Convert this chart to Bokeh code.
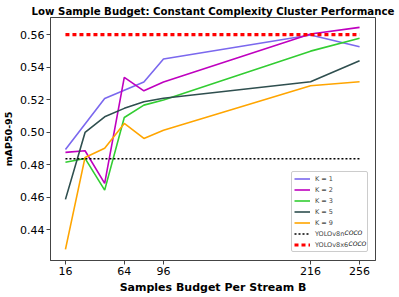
from bokeh.plotting import figure
from bokeh.models import Range1d, FixedTicker, Legend, LegendItem, Label, PrintfTickFormatter
from bokeh.embed import file_html
from bokeh.resources import INLINE

budgets = [16, 32, 48, 64, 80, 96, 216, 256]
k1 = [0.4893, 0.5050, 0.5206, 0.5257, 0.5308, 0.5450, 0.5597, 0.5525]
k2 = [0.4875, 0.4885, 0.4684, 0.5337, 0.5254, 0.5308, 0.5603, 0.5644]
k3 = [0.4815, 0.4838, 0.4643, 0.5090, 0.5166, 0.5198, 0.5498, 0.5577]
k5 = [0.4586, 0.4998, 0.5094, 0.5146, 0.5187, 0.5208, 0.5310, 0.5439]
k9 = [0.4278, 0.4844, 0.4900, 0.5053, 0.4961, 0.5012, 0.5285, 0.5310]
yolov8n = 0.4836
yolov8x6 = 0.5600
x_ticks = [16, 64, 96, 216, 256]
y_ticks = [0.44, 0.46, 0.48, 0.50, 0.52, 0.54, 0.56]

series = [
    ("K = 1", k1, "#7B68EE"),
    ("K = 2", k2, "#BF00BF"),
    ("K = 3", k3, "#32CD32"),
    ("K = 5", k5, "#2F4F4F"),
    ("K = 9", k9, "#FFA500"),
]

FONT = "DejaVu Sans"

p = figure(width=399, height=297, output_backend="svg", toolbar_location=None,
           x_range=Range1d(3.8, 269), y_range=Range1d(0.421, 0.5705),
           min_border_left=49, min_border_right=24, min_border_top=17,
           min_border_bottom=37,
           title="Low Sample Budget: Constant Complexity Cluster Performance")

p.title.text_font = FONT
p.title.text_font_size = "10.2px"
p.title.text_font_style = "bold"
p.title.text_color = "black"
p.title.align = "center"
p.title.standoff = 2

p.xgrid.visible = False
p.ygrid.visible = False
p.outline_line_color = "#444444"
p.outline_line_width = 1

for ax in (p.xaxis, p.yaxis):
    ax.axis_line_color = "#444444"
    ax.major_tick_line_color = "#444444"
    ax.major_tick_out = 4
    ax.major_tick_in = 0
    ax.minor_tick_line_color = None
    ax.major_label_text_font = FONT
    ax.major_label_text_font_size = "11px"
    ax.major_label_text_color = "black"
    ax.axis_label_text_font = FONT
    ax.axis_label_text_font_style = "bold"
    ax.axis_label_text_color = "black"

p.xaxis.ticker = FixedTicker(ticks=x_ticks)
p.yaxis.ticker = FixedTicker(ticks=y_ticks)
p.yaxis.formatter = PrintfTickFormatter(format="%.2f")
p.xaxis.axis_label = "Samples Budget Per Stream B"
p.xaxis.axis_label_text_font_size = "11px"
p.xaxis.axis_label_standoff = 3
p.xaxis.major_label_standoff = 2
p.yaxis.axis_label = "mAP50-95"
p.yaxis.axis_label_text_font_size = "9.5px"
p.yaxis.axis_label_standoff = 3
p.yaxis.major_label_standoff = 2

items = []
for label, vals, color in series:
    r = p.line(budgets, vals, line_color=color, line_width=1.6)
    items.append(LegendItem(label=label, renderers=[r]))

base_x = [budgets[0], budgets[-1]]
rn = p.line(base_x, [yolov8n, yolov8n], line_color="black", line_width=1.6,
            line_dash="2 2")
items.append(LegendItem(label="YOLOv8n", renderers=[rn]))
rx = p.line(base_x, [yolov8x6, yolov8x6], line_color="red", line_width=3.2,
            line_dash="4 3")
items.append(LegendItem(label="YOLOv8x6", renderers=[rx]))

# legend layout, screen px relative to the frame's bottom-left corner
LX, LY = 241, 8
PAD, GW, GH, SP, STAND, LW = 2, 16, 9, 2, 5, 50
legend = Legend(items=items, location=(LX, LY))
legend.label_text_font = FONT
legend.label_text_font_size = "6.5px"
legend.glyph_width = GW
legend.glyph_height = GH
legend.label_height = GH
legend.label_width = LW
legend.spacing = SP
legend.padding = PAD
legend.margin = 0
legend.label_standoff = STAND
legend.border_line_color = "#cccccc"
legend.border_line_alpha = 1
legend.border_radius = 2
legend.background_fill_alpha = 0
p.add_layout(legend, "center")

n_items = len(items)
leg_h = 2 * PAD + n_items * GH + (n_items - 1) * SP
text_left = LX + PAD + GW + STAND
for idx, base_w in ((5, 30.0), (6, 34.0)):
    row_mid_from_top = PAD + idx * (GH + SP) + GH / 2
    sy = LY + leg_h - row_mid_from_top + 2.5
    p.add_layout(Label(x=text_left + base_w, y=sy, x_units="screen", y_units="screen",
                       text="COCO", text_font=FONT, text_font_size="6px",
                       text_font_style="italic", text_baseline="middle",
                       text_align="left", text_color="black", level="overlay"))

open("out.html", "w").write(file_html(p, INLINE))
